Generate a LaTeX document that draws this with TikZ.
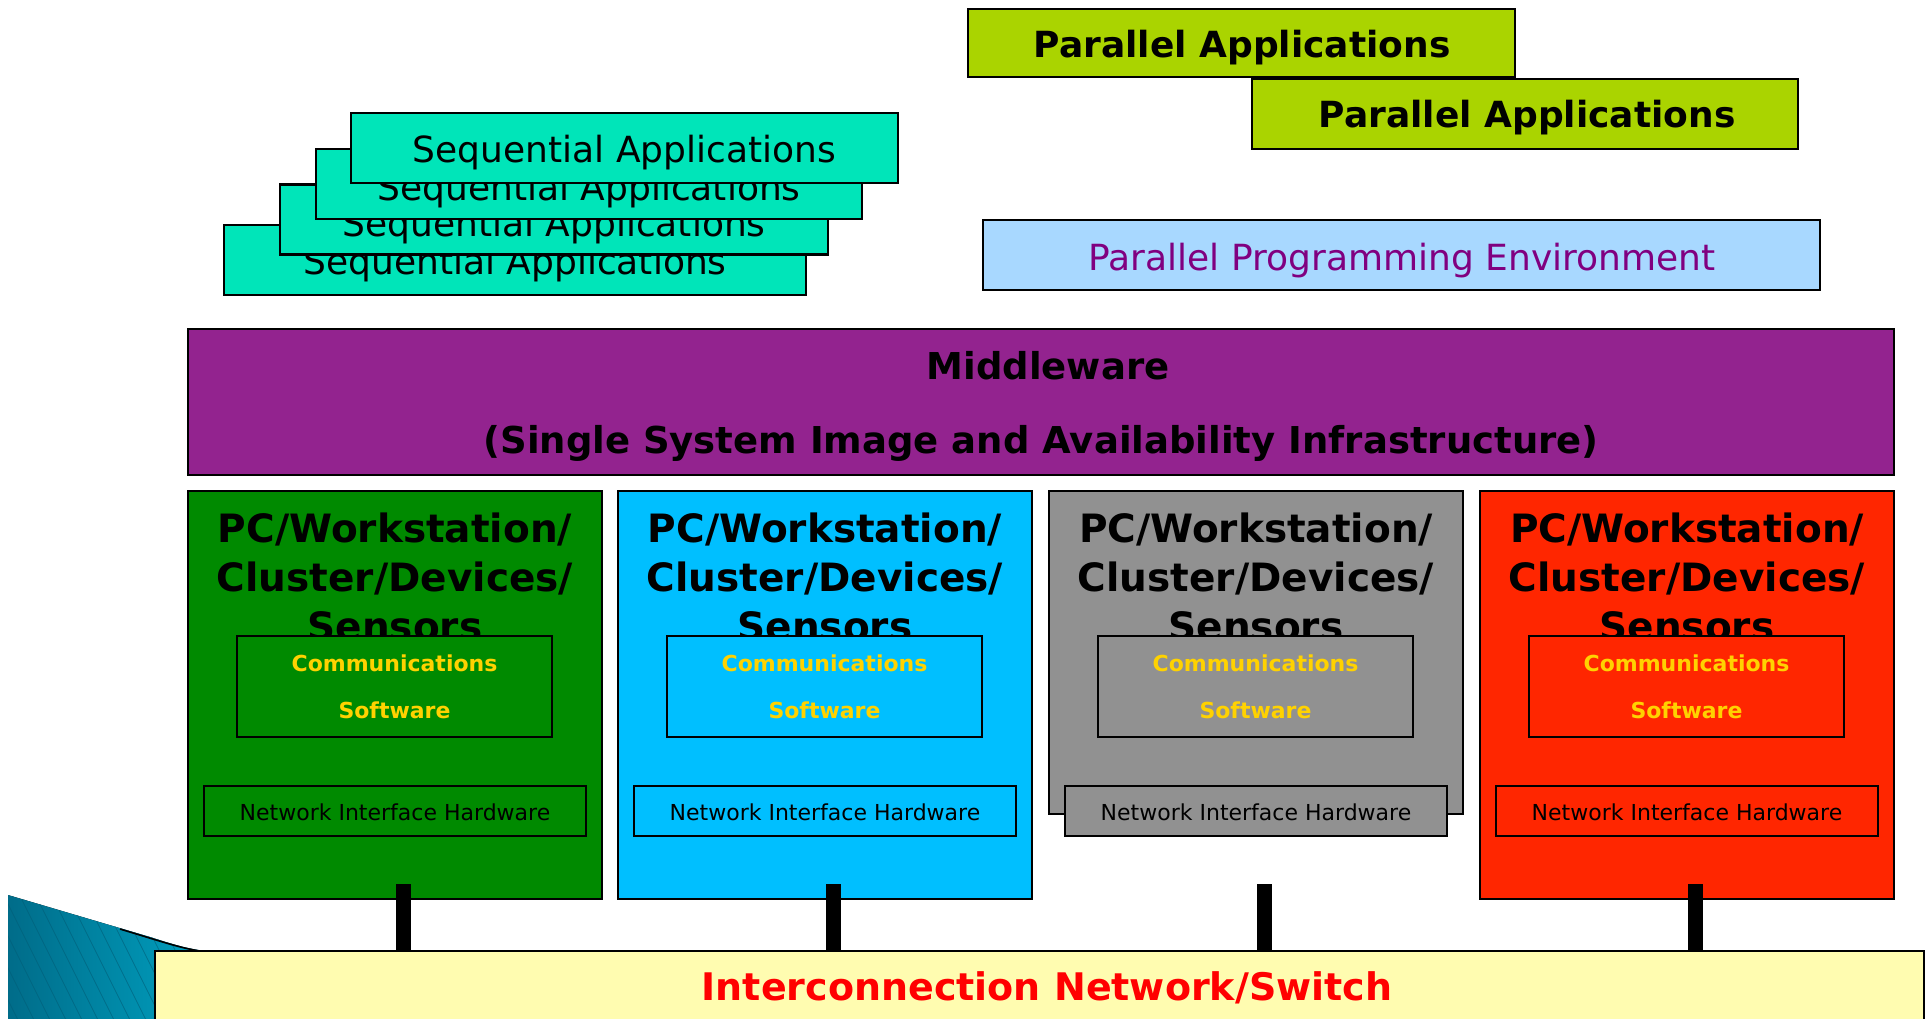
\documentclass[tikz,border=0pt]{standalone}
\usepackage{fontspec}
\setmainfont{DejaVu Sans}
\definecolor{paGreen}{HTML}{AAD400}
\definecolor{seqC}{HTML}{00E5B9}
\definecolor{ppeC}{HTML}{A8D8FF}
\definecolor{ppeT}{HTML}{800080}
\definecolor{midC}{HTML}{93238F}
\definecolor{pcGreen}{HTML}{008A00}
\definecolor{pcCyan}{HTML}{00BFFF}
\definecolor{pcGray}{HTML}{919191}
\definecolor{pcRed}{HTML}{FF2600}
\definecolor{netC}{HTML}{FFFCB0}
\definecolor{commT}{HTML}{FFD200}
\definecolor{netT}{HTML}{FF0000}
\definecolor{tealA}{HTML}{006A87}
\definecolor{tealB}{HTML}{00A4C4}
\definecolor{tealS}{HTML}{005E78}
\begin{document}
\begin{tikzpicture}[x=1pt,y=-1pt,
  box/.style={draw=black, line width=2.5pt, rectangle, inner sep=0pt, outer sep=0pt},
  bigbold/.style={font=\fontsize{36}{44}\selectfont\bfseries, inner sep=0pt},
  midbold/.style={font=\fontsize{37}{44}\selectfont\bfseries, inner sep=0pt},
  netbold/.style={font=\fontsize{38}{44}\selectfont\bfseries, inner sep=0pt},
  bigreg/.style={font=\fontsize{36}{44}\selectfont, inner sep=0pt},
  pctitle/.style={font=\fontsize{39}{49}\selectfont\bfseries, align=center, inner sep=0pt},
  commtext/.style={font=\fontsize{22}{47}\selectfont\bfseries, text=commT, align=center, inner sep=0pt},
  nihtext/.style={font=\fontsize{22}{26}\selectfont, inner sep=0pt},
  conn/.style={line width=15pt, black}]
\useasboundingbox (0,0) rectangle (1926,1018);
\clip (0,0) rectangle (1926,1018);

% decorative corner shape
\begin{scope}
\clip (8,895) -- (150,937) .. controls (175,945) and (190,950) .. (215,952) -- (215,1030) -- (8,1030) -- cycle;
\fill[left color=tealA, right color=tealB] (0,880) rectangle (220,1030);
\foreach \i in {-260,-244,...,230} \draw[tealS, line width=0.8pt, opacity=0.6] (\i,880) -- ++(75,150);
\end{scope}
\draw[black, line width=1.6pt] (120,929) .. controls (160,941) and (180,948) .. (200,951);

% parallel applications
\node[box, fill=paGreen, minimum width=547pt, minimum height=68pt] (pa1) at (1241.5,43) {};
\node[bigbold] (pa1t) at (1242,48) {Parallel Applications};
\node[box, fill=paGreen, minimum width=546pt, minimum height=70pt] (pa2) at (1525,114) {};
\node[bigbold] (pa2t) at (1527,118) {Parallel Applications};

% sequential applications
\node[box, fill=seqC, minimum width=582pt, minimum height=70pt] (seq1) at (515,260) {};
\node[bigreg] (seq1t) at (515,265) {Sequential Applications};
\node[box, fill=seqC, minimum width=548pt, minimum height=70pt] (seq2) at (554,219.5) {};
\node[bigreg] (seq2t) at (554,227) {Sequential Applications};
\node[box, fill=seqC, minimum width=546pt, minimum height=70pt] (seq3) at (589,184) {};
\node[bigreg] (seq3t) at (589,191) {Sequential Applications};
\node[box, fill=seqC, minimum width=547pt, minimum height=70pt] (seq4) at (624.5,148) {};
\node[bigreg] (seq4t) at (624.5,153) {Sequential Applications};

% parallel programming environment
\node[box, fill=ppeC, minimum width=837pt, minimum height=70pt] (ppe) at (1401.5,255) {};
\node[bigreg, text=ppeT] (ppet) at (1402,261) {Parallel Programming Environment};

% middleware
\node[box, fill=midC, minimum width=1706pt, minimum height=146pt] (mid) at (1041,402) {};
\node[midbold] (midt1) at (1048,366) {Middleware};
\node[midbold] (midt2) at (1041,443) {(Single System Image and Availability Infrastructure)};

% network
\node[box, fill=netC, minimum width=1769pt, minimum height=100pt] (net) at (1039.5,1001) {};
\node[netbold, text=netT] (nett) at (1047,988) {Interconnection Network/Switch};

% PC columns
\foreach \n/\dx/\col/\h/\cy in {1/0/pcGreen/408/695, 2/430/pcCyan/408/695, 3/861/pcGray/323/652.5, 4/1292/pcRed/408/695} {
  \node[box, fill=\col, minimum width=414pt, minimum height=\h pt] (pc\n) at (395+\dx,\cy) {};
  \node[pctitle] (pc\n t) at (395+\dx,577) {PC/Workstation/\\Cluster/Devices/\\Sensors};
  \node[box, fill=\col, minimum width=315pt, minimum height=101pt] (comm\n) at (394.5+\dx,686.5) {};
  \node[commtext] (comm\n t) at (394.5+\dx,686.5) {Communications\\Software};
  \node[box, fill=\col, minimum width=382pt, minimum height=50pt] (nih\n) at (395+\dx,811) {};
  \node[nihtext] (nih\n t) at (395+\dx,812) {Network Interface Hardware};
  \coordinate (s\n) at (403+\dx,884);
  \draw[conn] (s\n) -- (s\n |- net.north);
}
\end{tikzpicture}
\end{document}
